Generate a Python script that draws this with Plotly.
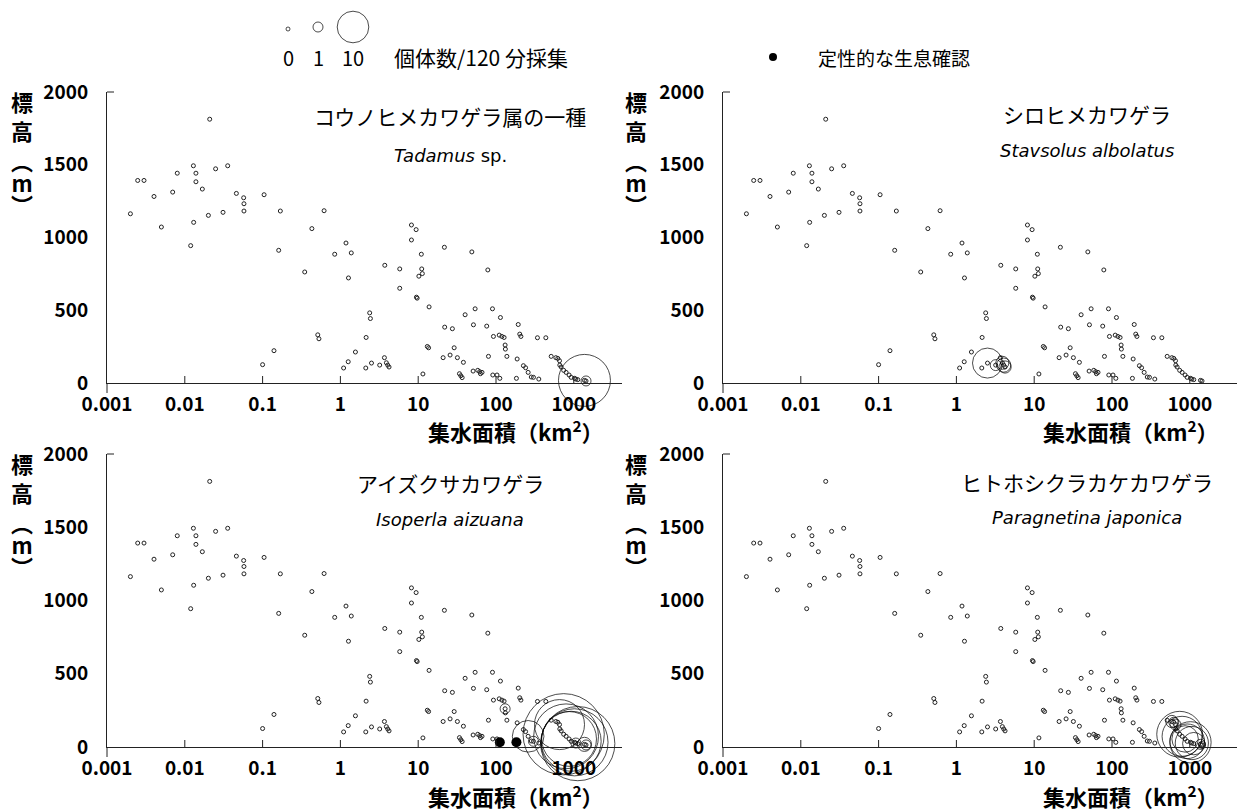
import math
import plotly.graph_objects as go

W, H = 1242, 811

# ---------------- data ----------------
# all sampling sites: catchment area (km2) and elevation (m)
site_area = [0.0020, 0.00248, 0.00299, 0.00402, 0.0050, 0.00699, 0.0080, 0.0119, 0.0129, 0.0130,
             0.0139, 0.0139, 0.0168, 0.0201, 0.0209, 0.0249, 0.031, 0.0356, 0.046, 0.0571,
             0.0576, 0.0576, 0.1045, 0.100, 0.140, 0.161, 0.169, 0.348, 0.430, 0.512,
             0.53, 0.617, 0.845, 1.18, 1.38, 1.27, 1.10, 1.26, 1.56, 2.12,
             2.14, 2.38, 2.43, 2.51, 3.2, 3.68, 3.72, 3.9, 4.06, 4.22,
             5.79, 5.79, 8.19, 9.4, 8.19, 10.97, 11.1, 11.3, 10.2, 9.49,
             9.7, 11.5, 13.8, 13.1, 13.6, 21.7, 21.9, 27.5, 20.9, 25.7,
             29.0, 31.9, 38.1, 33.9, 35.3, 36.7, 40.1, 48.9, 51.3, 53.9,
             50.8, 58.3, 61.7, 66.1, 63.1, 76, 78.5, 80.0, 90.1, 92.7,
             91, 103, 112, 110, 119, 127, 114, 131, 132, 138,
             183, 187, 193, 202, 209, 225, 240, 259, 284, 303,
             341, 355, 437, 512, 588, 623, 655, 661, 688, 741,
             796, 870, 925, 1021, 1062, 1125, 1371, 1436]
site_elev = [1163, 1392, 1392, 1282, 1072, 1312, 1442, 944, 1493, 1104,
             1442, 1383, 1333, 1152, 1813, 1472, 1173, 1493, 1303, 1273,
             1232, 1182, 1294, 126, 222, 912, 1182, 763, 1061, 331,
             304, 1184, 885, 962, 894, 722, 103, 146, 213, 103,
             313, 482, 443, 137, 123, 174, 809, 139, 123, 110,
             784, 651, 1086, 1054, 983, 885, 784, 752, 734, 590,
             583, 62, 523, 251, 242, 933, 384, 373, 174, 192,
             242, 174, 142, 64, 50, 37, 469, 901, 400, 510,
             82, 87, 78, 73, 64, 391, 777, 183, 510, 320,
             55, 55, 32, 329, 320, 313, 450, 261, 233, 183,
             32, 165, 402, 336, 320, 119, 105, 73, 41, 39,
             311, 27, 311, 183, 174, 169, 153, 123, 110, 87,
             73, 55, 39, 32, 27, 23, 18, 14]

# species catches (individuals / 120 min)
tad_area = [1371, 1436]
tad_elev = [18, 14]
tad_n = [27, 1]

sta_area = [2.51, 3.2, 3.9, 4.06, 4.22]
sta_elev = [137, 123, 139, 123, 110]
sta_n = [9, 1.2, 1.7, 2, 1.5]

iso_area = [259, 303, 655, 741, 796, 870, 925, 1021, 1062, 1125, 1371, 1436, 131]
iso_elev = [73, 39, 153, 87, 73, 55, 39, 32, 27, 23, 18, 14, 261]
iso_n = [10, 1, 25, 66, 42, 30, 36, 45, 1, 55, 2, 1, 1]
iso_qual_area = [112, 183]
iso_qual_elev = [32, 32]

par_area = [741, 796, 588, 623, 655, 870, 925, 1021, 1062, 1125, 1371, 1436]
par_elev = [87, 73, 174, 169, 153, 55, 39, 32, 27, 23, 18, 14]
par_n = [21, 16, 1.5, 1, 1.2, 7, 12, 17, 11, 5, 1, 0.5]

legend_counts = [0, 1, 10]
legend_labels = ["0", "1", "10"]

x_tickvals = [0.001, 0.01, 0.1, 1, 10, 100, 1000]
x_ticktext = ["0.001", "0.01", "0.1", "1", "10", "100", "1000"]
y_tickvals = [0, 500, 1000, 1500, 2000]
y_ticktext = ["0", "500", "1000", "1500", "2000"]

# ---------------- helpers ----------------
JP = "Noto Sans CJK JP"
LAT = "DejaVu Sans"
AX = "#222"


def msize(n):
    return 4 if n == 0 else 10 * math.sqrt(n)


def px(x):
    return x / W


def py(y):
    return 1 - y / H


DEC = 77.8  # px per decade

panels = [
    dict(k=1, x0=107, x1=622, yt=92, yb=383, jp="コウノヒメカワゲラ属の一種", sci="<i>Tadamus</i> sp.",
         tx=450, ty=116, sy=155, sp=(tad_area, tad_elev, tad_n), q=None),
    dict(k=2, x0=723, x1=1237, yt=92, yb=383, jp="シロヒメカワゲラ", sci="<i>Stavsolus albolatus</i>",
         tx=1087, ty=114, sy=150, sp=(sta_area, sta_elev, sta_n), q=None),
    dict(k=3, x0=107, x1=622, yt=454, yb=747, jp="アイズクサカワゲラ", sci="<i>Isoperla aizuana</i>",
         tx=450, ty=483, sy=519, sp=(iso_area, iso_elev, iso_n), q=(iso_qual_area, iso_qual_elev)),
    dict(k=4, x0=723, x1=1237, yt=454, yb=747, jp="ヒトホシクラカケカワゲラ", sci="<i>Paragnetina japonica</i>",
         tx=1087, ty=482, sy=517, sp=(par_area, par_elev, par_n), q=None),
]

fig = go.Figure()
annotations = []
shapes = []
tickfont = dict(family=JP, size=19, color="black")

for p in panels:
    k = p["k"]
    xa = "x" if k == 1 else f"x{k}"
    ya = "y" if k == 1 else f"y{k}"
    xkey = "xaxis" if k == 1 else f"xaxis{k}"
    ykey = "yaxis" if k == 1 else f"yaxis{k}"
    xmax = -3 + (p["x1"] - p["x0"]) / DEC
    fig.update_layout({
        xkey: dict(domain=[px(p["x0"]), px(p["x1"])], anchor=ya, type="log", range=[-3, xmax],
                   tickvals=x_tickvals, ticktext=[f"<b>{t}</b>" for t in x_ticktext],
                   ticks="outside", ticklen=4, tickcolor="rgba(0,0,0,0)",
                   showline=True, linecolor=AX, linewidth=1, automargin=False,
                   showgrid=False, zeroline=False, tickfont=tickfont),
        ykey: dict(domain=[py(p["yb"]), py(p["yt"])], anchor=xa, range=[0, 2000],
                   tickvals=y_tickvals, ticktext=[f"<b>{t}</b>" for t in y_ticktext],
                   ticks="outside", ticklen=14, tickcolor="rgba(0,0,0,0)",
                   showline=True, linecolor=AX, linewidth=1, automargin=False,
                   showgrid=False, zeroline=False, tickfont=tickfont),
    })
    # background: all sites
    fig.add_trace(go.Scatter(x=site_area, y=site_elev, xaxis=xa, yaxis=ya, mode="markers",
                             marker=dict(symbol="circle-open", size=4, color="#222",
                                         line=dict(width=1)),
                             showlegend=False, hoverinfo="skip", cliponaxis=False))
    a, e, n = p["sp"]
    fig.add_trace(go.Scatter(x=a, y=e, xaxis=xa, yaxis=ya, mode="markers",
                             marker=dict(symbol="circle-open", size=[msize(v) for v in n],
                                         color="black", line=dict(width=1)),
                             showlegend=False, cliponaxis=False))
    if p["q"] is not None:
        qa, qe = p["q"]
        fig.add_trace(go.Scatter(x=qa, y=qe, xaxis=xa, yaxis=ya, mode="markers",
                                 marker=dict(symbol="circle", size=10, color="black"),
                                 showlegend=False, cliponaxis=False))
    ph = p["yb"] - p["yt"]
    pw = p["x1"] - p["x0"]
    # inside tick marks on the x axis at the tick values
    for tv in x_tickvals[1:]:
        shapes.append(dict(type="line", xref=xa, yref=f"{ya} domain", x0=tv, x1=tv,
                           y0=0, y1=7 / ph, line=dict(color=AX, width=1)))
    # y-axis line extension below x-axis and top stub
    shapes.append(dict(type="line", xref=f"{xa} domain", yref=f"{ya} domain",
                       x0=0, x1=0, y0=0, y1=-10 / ph, line=dict(color=AX, width=1)))
    shapes.append(dict(type="line", xref=f"{xa} domain", yref=f"{ya} domain",
                       x0=0, x1=7 / pw, y0=1, y1=1, line=dict(color=AX, width=1)))
    # titles
    annotations.append(dict(text=p["jp"], x=px(p["tx"]), y=py(p["ty"]), xref="paper", yref="paper",
                            showarrow=False, xanchor="center", yanchor="middle",
                            font=dict(family=JP, size=21, color="black")))
    annotations.append(dict(text=p["sci"], x=px(p["tx"]), y=py(p["sy"]), xref="paper", yref="paper",
                            showarrow=False, xanchor="center", yanchor="middle",
                            font=dict(family=LAT, size=18, color="black")))
    # x-axis title
    annotations.append(dict(text="<b>集水面積（km<sup>2</sup>）</b>", x=px(p["x1"] - 106),
                            y=py(p["yb"] + 48), xref="paper", yref="paper", showarrow=False,
                            xanchor="center", yanchor="middle",
                            font=dict(family=JP, size=22, color="black")))
    # vertical y-axis title (vertical-writing glyphs), two stacked groups
    lx = 22 if p["x0"] < 400 else 636
    off = p["yt"] - 92
    annotations.append(dict(text="<b>標<br>高</b>", x=px(lx), y=py(115.5 + off), xref="paper",
                            yref="paper", showarrow=False, xanchor="center", yanchor="middle",
                            font=dict(family=JP, size=22, color="black")))
    annotations.append(dict(
        text="<b><span style='font-size:22px'>︵</span><br><span style='font-size:22px'>m</span>"
             "<br><span style='font-size:22px'>︶</span></b>",
        x=px(lx), y=py(182 + off), xref="paper", yref="paper", showarrow=False,
        xanchor="center", yanchor="middle", font=dict(family=JP, size=17, color="black")))

# ---------------- legend (hidden pixel axis) ----------------
fig.update_layout(
    xaxis5=dict(domain=[0, 1], range=[0, W], visible=False, anchor="y5", automargin=False),
    yaxis5=dict(domain=[0, 1], range=[H, 0], visible=False, anchor="x5", automargin=False),
)
leg_x = [288, 318, 353]
fig.add_trace(go.Scatter(x=leg_x, y=[29, 27, 27], xaxis="x5", yaxis="y5", mode="markers",
                         marker=dict(symbol="circle-open", size=[msize(c) for c in legend_counts],
                                     color="black", line=dict(width=1)),
                         showlegend=False, hoverinfo="skip", cliponaxis=False))
fig.add_trace(go.Scatter(x=[773], y=[57], xaxis="x5", yaxis="y5", mode="markers",
                         marker=dict(symbol="circle", size=8, color="black"),
                         showlegend=False, hoverinfo="skip", cliponaxis=False))
for lx, lab in zip(leg_x, legend_labels):
    annotations.append(dict(text=lab, x=px(lx), y=py(57), xref="paper", yref="paper",
                            showarrow=False, xanchor="center", yanchor="middle",
                            font=dict(family=JP, size=20, color="black")))
annotations.append(dict(text="個体数/120 分採集", x=px(392), y=py(57), xref="paper", yref="paper",
                        showarrow=False, xanchor="left", yanchor="middle",
                        font=dict(family=JP, size=21, color="black")))
annotations.append(dict(text="定性的な生息確認", x=px(816), y=py(57), xref="paper", yref="paper",
                        showarrow=False, xanchor="left", yanchor="middle",
                        font=dict(family=JP, size=19, color="black")))

fig.update_layout(template="none", width=W, height=H, margin=dict(l=0, r=0, t=0, b=0, pad=0),
                  paper_bgcolor="white", plot_bgcolor="rgba(0,0,0,0)",
                  annotations=annotations, shapes=shapes, showlegend=False)

fig.write_html("out.html", config={"displayModeBar": False},
               post_script="document.body.style.margin='0px';")
